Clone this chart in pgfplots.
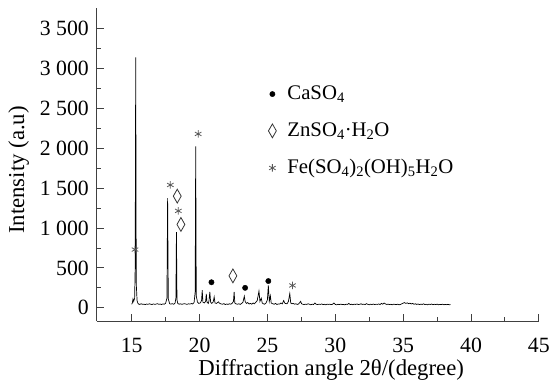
\documentclass[border=0pt]{standalone}
\usepackage{fontspec}
\setmainfont{Liberation Serif}
\usepackage{pgfplots}
\pgfplotsset{compat=1.18}
\pgfplotstableread{
x y
15.00 45
15.05 60
15.10 110
15.15 80
15.22 120
15.26 500
15.30 3140
15.34 300
15.40 90
15.45 60
15.50 48
15.60 42
15.70 50
15.80 44
15.90 46
16.00 40
16.10 47
16.20 43
16.30 50
16.40 45
16.50 41
16.60 48
16.70 44
16.80 46
16.90 52
17.00 43
17.10 47
17.20 41
17.30 49
17.40 45
17.50 55
17.60 120
17.65 1375
17.70 110
17.80 50
17.90 46
18.00 52
18.10 44
18.20 60
18.26 120
18.30 950
18.34 100
18.40 55
18.50 45
18.60 50
18.70 43
18.80 48
18.90 52
19.00 46
19.10 44
19.20 50
19.30 47
19.40 53
19.50 48
19.60 65
19.68 200
19.72 2025
19.76 150
19.85 70
19.95 55
20.05 60
20.15 90
20.20 220
20.25 70
20.35 60
20.45 80
20.50 175
20.55 70
20.65 55
20.70 90
20.76 200
20.82 70
20.90 55
21.00 70
21.08 135
21.14 60
21.25 55
21.40 75
21.45 60
21.55 50
21.70 45
21.80 52
21.90 40
22.00 48
22.10 42
22.20 50
22.30 45
22.40 55
22.50 80
22.55 200
22.60 60
22.70 48
22.80 45
22.90 50
23.00 42
23.10 55
23.20 70
23.30 145
23.36 80
23.45 55
23.55 65
23.65 48
23.75 55
23.85 45
23.95 60
24.05 50
24.15 70
24.25 90
24.38 210
24.45 80
24.55 120
24.62 60
24.70 50
24.80 45
24.90 60
25.00 100
25.07 280
25.14 80
25.22 150
25.28 60
25.40 50
25.50 45
25.60 55
25.70 42
25.80 48
25.90 46
26.00 60
26.10 50
26.20 90
26.30 55
26.45 50
26.55 80
26.65 178
26.72 60
26.80 50
26.90 55
27.00 45
27.10 50
27.20 42
27.30 48
27.45 80
27.52 50
27.60 45
27.70 40
27.80 46
27.90 42
28.00 50
28.10 44
28.20 38
28.30 45
28.40 41
28.50 60
28.60 44
28.70 40
28.80 46
28.90 42
29.00 48
29.10 40
29.20 44
29.30 38
29.40 46
29.50 42
29.60 45
29.70 40
29.80 44
29.90 60
30.00 42
30.10 38
30.20 44
30.30 40
30.40 46
30.50 41
30.60 43
30.70 37
30.80 45
30.90 42
31.00 55
31.10 40
31.20 44
31.30 38
31.40 46
31.50 42
31.60 48
31.70 40
31.80 44
31.90 50
32.00 42
32.10 46
32.20 40
32.30 52
32.40 43
32.50 38
32.60 45
32.70 41
32.80 47
32.90 40
33.00 44
33.10 42
33.20 48
33.30 40
33.40 55
33.50 45
33.60 60
33.70 48
33.80 42
33.90 46
34.00 40
34.10 44
34.20 38
34.30 46
34.40 42
34.50 40
34.60 45
34.70 38
34.80 42
34.90 50
35.00 58
35.10 65
35.20 55
35.30 62
35.40 52
35.50 58
35.60 48
35.70 55
35.80 44
35.90 50
36.00 42
36.10 48
36.20 40
36.30 46
36.40 42
36.50 50
36.60 40
36.70 44
36.80 38
36.90 45
37.00 41
37.10 47
37.20 39
37.30 44
37.40 40
37.50 46
37.60 38
37.70 43
37.80 40
37.90 45
38.00 38
38.10 42
38.20 39
38.30 43
38.40 38
38.50 40
}\xrd
\begin{document}
\fontsize{22}{26}\selectfont
\begin{tikzpicture}
\begin{axis}[
  scale only axis, width=447pt, height=317pt,
  xmin=12.44, xmax=45, ymin=-170, ymax=3760,
  axis x line*=bottom, axis y line*=left,
  axis line style={black!75, line width=0.9pt},
  every tick/.style={black!75, line width=0.9pt},
  tick align=inside,
  major tick length=7pt, minor tick length=4pt,
  xtick={15,20,...,45}, ytick={0,500,...,3500},
  minor tick num=1,
  /pgf/number format/assume math mode=true,
  /pgf/number format/1000 sep={\hspace{0.25em}},
  tick label style={font=\fontsize{22}{26}\selectfont},
  xticklabel style={anchor=center, yshift=-24pt},
  yticklabel style={anchor=east, inner sep=0pt, xshift=-8pt},
  xlabel={Diffraction angle 2θ/(degree)},
  ylabel={Intensity (a.u)},
  xlabel style={at={(axis description cs:0.53,-0.155)}, anchor=center, font=\fontsize{23}{27}\selectfont},
  ylabel style={at={(axis description cs:-0.177,0.483)}, anchor=center, font=\fontsize{23}{27}\selectfont},
  legend style={at={(0.385,0.756)}, anchor=north west, draw=none, fill=none,
    font=\fontsize{21}{25}\selectfont, row sep=18pt, inner sep=0pt,
    nodes={inner sep=1pt}},
  legend cell align=left,
  legend image code/.code={\draw[#1] plot coordinates {(0pt,0pt)}; \path (-5pt,0pt) (14pt,0pt);},
]
\addplot[black, line width=0.7pt, forget plot] table[x=x,y=y] {\xrd};
\addplot[only marks, mark=*, mark size=2.7pt, black] coordinates {(20.88,320) (23.36,250) (25.07,335)};
\addlegendentry{CaSO\textsubscript{4}}
\addplot[only marks, mark=diamond, mark size=7pt, black!80, mark options={xscale=0.76, line width=0.8pt}] coordinates {(18.36,1400) (18.63,1045) (22.46,400)};
\addlegendentry{ZnSO\textsubscript{4}·H\textsubscript{2}O}
\addplot[only marks, mark=asterisk, mark size=3.8pt, black!65, mark options={line width=0.8pt}] coordinates {(15.25,730) (17.85,1540) (18.44,1215) (19.9,2180) (26.85,280)};
\addlegendentry{Fe(SO\textsubscript{4})\textsubscript{2}(OH)\textsubscript{5}H\textsubscript{2}O}
\end{axis}
\path ([xshift=-98pt,yshift=-64pt]current axis.south west) ([xshift=12pt,yshift=8pt]current axis.north east);
\end{tikzpicture}
\end{document}
